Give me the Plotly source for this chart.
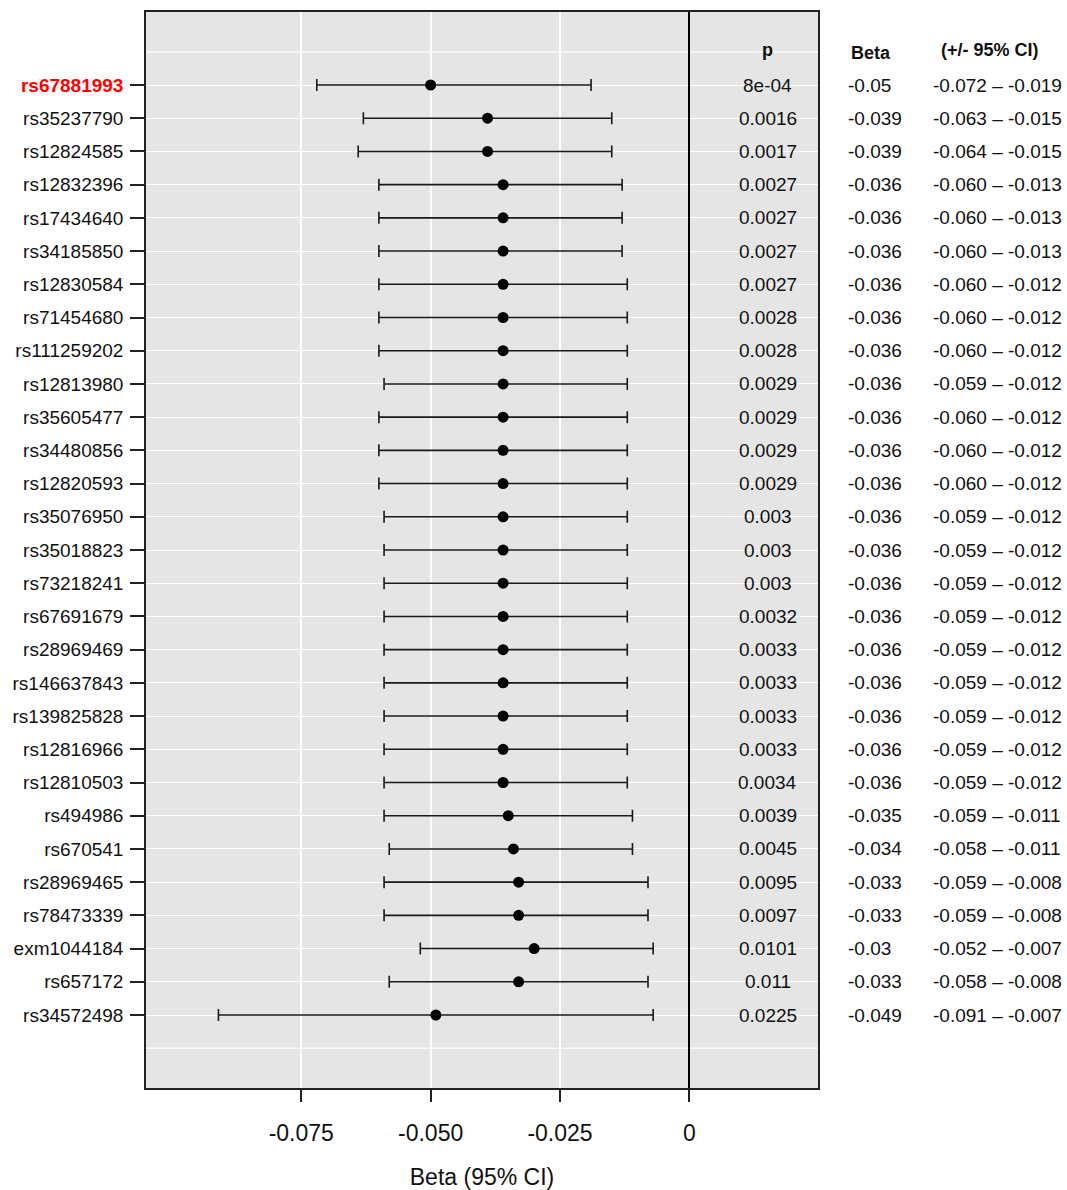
import plotly.graph_objects as go

snps = ["rs67881993", "rs35237790", "rs12824585", "rs12832396", "rs17434640", "rs34185850",
        "rs12830584", "rs71454680", "rs111259202", "rs12813980", "rs35605477", "rs34480856",
        "rs12820593", "rs35076950", "rs35018823", "rs73218241", "rs67691679", "rs28969469",
        "rs146637843", "rs139825828", "rs12816966", "rs12810503", "rs494986", "rs670541",
        "rs28969465", "rs78473339", "exm1044184", "rs657172", "rs34572498"]
p_values = ["8e-04", "0.0016", "0.0017", "0.0027", "0.0027", "0.0027", "0.0027", "0.0028",
            "0.0028", "0.0029", "0.0029", "0.0029", "0.0029", "0.003", "0.003", "0.003",
            "0.0032", "0.0033", "0.0033", "0.0033", "0.0033", "0.0034", "0.0039", "0.0045",
            "0.0095", "0.0097", "0.0101", "0.011", "0.0225"]
beta = [-0.05, -0.039, -0.039, -0.036, -0.036, -0.036, -0.036, -0.036, -0.036, -0.036,
        -0.036, -0.036, -0.036, -0.036, -0.036, -0.036, -0.036, -0.036, -0.036, -0.036,
        -0.036, -0.036, -0.035, -0.034, -0.033, -0.033, -0.03, -0.033, -0.049]
ci_low = [-0.072, -0.063, -0.064, -0.060, -0.060, -0.060, -0.060, -0.060, -0.060, -0.059,
          -0.060, -0.060, -0.060, -0.059, -0.059, -0.059, -0.059, -0.059, -0.059, -0.059,
          -0.059, -0.059, -0.059, -0.058, -0.059, -0.059, -0.052, -0.058, -0.091]
ci_high = [-0.019, -0.015, -0.015, -0.013, -0.013, -0.013, -0.012, -0.012, -0.012, -0.012,
           -0.012, -0.012, -0.012, -0.012, -0.012, -0.012, -0.012, -0.012, -0.012, -0.012,
           -0.012, -0.012, -0.011, -0.011, -0.008, -0.008, -0.007, -0.008, -0.007]
highlight = "rs67881993"
x_ticks = [-0.075, -0.05, -0.025, 0]
x_ticktext = ["-0.075", "-0.050", "-0.025", "0"]

rows = list(range(1, len(snps) + 1))
FONT = "Liberation Sans, Arial, sans-serif"
TXT = "#111111"

fig = go.Figure()
fig.add_trace(go.Scatter(
    x=beta, y=rows, mode="markers",
    marker=dict(color="black", size=11),
    error_x=dict(type="data", symmetric=False,
                 array=[h - b for h, b in zip(ci_high, beta)],
                 arrayminus=[b - l for b, l in zip(beta, ci_low)],
                 color="#1a1a1a", thickness=1.6, width=6),
    showlegend=False, hoverinfo="skip"))

ticktext = [f"<b><span style='color:#ff0000'>{s}</span></b>" if s == highlight else s for s in snps]

annotations = []
x_p, x_beta, x_ci = 0.9250, 1.0416, 1.1681
for r, p, b, l, h in zip(rows, p_values, beta, ci_low, ci_high):
    annotations.append(dict(x=x_p, y=r, xref="paper", yref="y", text=p, showarrow=False,
                            xanchor="center", yanchor="middle", font=dict(size=19, color=TXT, family=FONT)))
    annotations.append(dict(x=x_beta, y=r, xref="paper", yref="y", text=f"{b:g}", showarrow=False,
                            xanchor="left", yanchor="middle", font=dict(size=19, color=TXT, family=FONT)))
    annotations.append(dict(x=x_ci, y=r, xref="paper", yref="y", text=f"{l:.3f} \u2013 {h:.3f}",
                            showarrow=False, xanchor="left", yanchor="middle",
                            font=dict(size=19, color=TXT, family=FONT)))
annotations.append(dict(x=x_p, y=-0.05, xref="paper", yref="y", text="<b>p</b>", showarrow=False,
                        xanchor="center", yanchor="middle", font=dict(size=18, color=TXT, family=FONT)))
annotations.append(dict(x=1.046, y=0.05, xref="paper", yref="y", text="<b>Beta</b>", showarrow=False,
                        xanchor="left", yanchor="middle", font=dict(size=18, color=TXT, family=FONT)))
annotations.append(dict(x=1.2560, y=-0.05, xref="paper", yref="y", text="<b>(+/- 95% CI)</b>",
                        showarrow=False, xanchor="center", yanchor="middle",
                        font=dict(size=18, color=TXT, family=FONT)))

shapes = [dict(type="line", xref="paper", yref="y", x0=0, x1=1, y0=yv, y1=yv,
               line=dict(color="white", width=1.3), layer="below") for yv in (0, len(snps) + 1)]

fig.update_layout(
    width=1067, height=1190,
    margin=dict(l=146, r=249, t=12, b=102),
    paper_bgcolor="white", plot_bgcolor="#e5e5e5",
    font=dict(family=FONT, color=TXT),
    annotations=annotations, shapes=shapes,
    xaxis=dict(range=[-0.1050, 0.02485], tickvals=x_ticks, ticktext=x_ticktext,
               showgrid=True, gridcolor="white", gridwidth=2,
               zeroline=True, zerolinecolor="black", zerolinewidth=2,
               ticks="outside", ticklen=12, tickwidth=1.5, tickcolor="#222",
               tickfont=dict(size=23, color=TXT), ticklabelstandoff=12,
               showline=True, mirror=True, linecolor="#222", linewidth=1.5,
               title=dict(text="Beta (95% CI)", font=dict(size=23, color=TXT), standoff=26),
               automargin=False),
    yaxis=dict(range=[len(snps) + 2.198, -1.198], tickvals=rows, ticktext=ticktext,
               showgrid=True, gridcolor="white", gridwidth=1.3, zeroline=False,
               ticks="outside", ticklen=14, tickwidth=1.5, tickcolor="#222",
               tickfont=dict(size=19, color=TXT), ticklabelstandoff=3,
               showline=True, mirror=True, linecolor="#222", linewidth=1.5,
               automargin=False),
)

fig.write_html("out.html", config={"displayModeBar": False},
               post_script="document.body.style.margin='0';document.body.style.overflow='hidden';")
